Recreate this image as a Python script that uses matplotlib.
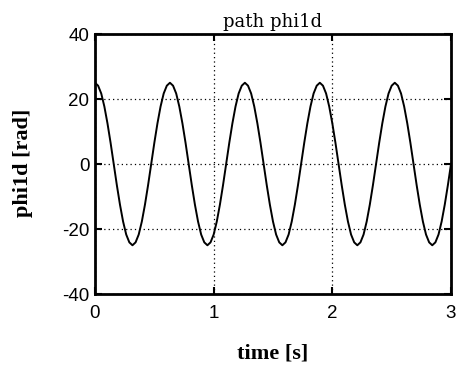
import numpy as np
import matplotlib
matplotlib.use("Agg")
import matplotlib.pyplot as plt

phi1d = [25.0, 24.1, 21.7, 17.7, 12.5, 6.5, 0.0, -6.5, -12.5, -17.7, -21.7, -24.1,
         -25.0, -24.1, -21.7, -17.7, -12.5, -6.5, 0.0, 6.5, 12.5, 17.7, 21.7, 24.1,
         25.0, 24.1, 21.7, 17.7, 12.5, 6.5, 0.0, -6.5, -12.5, -17.7, -21.7, -24.1,
         -25.0, -24.1, -21.7, -17.7, -12.5, -6.5, 0.0, 6.5, 12.5, 17.7, 21.7, 24.1,
         25.0, 24.1, 21.7, 17.7, 12.5, 6.5, 0.0, -6.5, -12.5, -17.7, -21.7, -24.1,
         -25.0, -24.1, -21.7, -17.7, -12.5, -6.5, 0.0, 6.5, 12.5, 17.7, 21.7, 24.1,
         25.0, 24.1, 21.7, 17.7, 12.5, 6.5, 0.0, -6.5, -12.5, -17.7, -21.7, -24.1,
         -25.0, -24.1, -21.7, -17.7, -12.5, -6.5, 0.0, 6.5, 12.5, 17.7, 21.7, 24.1,
         25.0, 24.1, 21.7, 17.7, 12.5, 6.5, 0.0, -6.5, -12.5, -17.7, -21.7, -24.1,
         -25.0, -24.1, -21.7, -17.7, -12.5, -6.5, 0.0]
time_s = np.linspace(0, 3, len(phi1d))

xticks = [0, 1, 2, 3]
yticks = [-40, -20, 0, 20, 40]

fig = plt.figure(figsize=(4.62, 3.68), dpi=100)
ax = fig.add_axes([0.2056, 0.201, 0.7706, 0.7066])
ax.plot(time_s, phi1d, color="black", linewidth=1.4)

ax.set_xlim(0, 3)
ax.set_ylim(-40, 40)
ax.set_xticks(xticks)
ax.set_yticks(yticks)
ax.set_xticklabels([str(v) for v in xticks], family="Liberation Sans", fontsize=13.5)
ax.set_yticklabels([str(v) for v in yticks], family="Liberation Sans", fontsize=13.5)
ax.tick_params(direction="in", length=5, width=1.5, top=True, right=True)
ax.tick_params(axis="x", pad=8)
ax.tick_params(axis="y", pad=4)
ax.grid(True, color="black", linestyle=(0, (1, 2.5)), linewidth=0.9)
for s in ax.spines.values():
    s.set_linewidth(2.0)

ax.set_title("path phi1d", family="DejaVu Serif", fontsize=13, pad=5)
ax.set_xlabel("time [s]", family="Liberation Serif", fontweight="bold", fontsize=16)
ax.set_ylabel("phi1d [rad]", family="Liberation Serif", fontweight="bold", fontsize=16)
ax.xaxis.set_label_coords(0.5, -0.227)
ax.xaxis.label.set_va("center")
ax.yaxis.set_label_coords(-0.202, 0.504)
ax.yaxis.label.set_va("center")

fig.savefig("out.png", dpi=100)
